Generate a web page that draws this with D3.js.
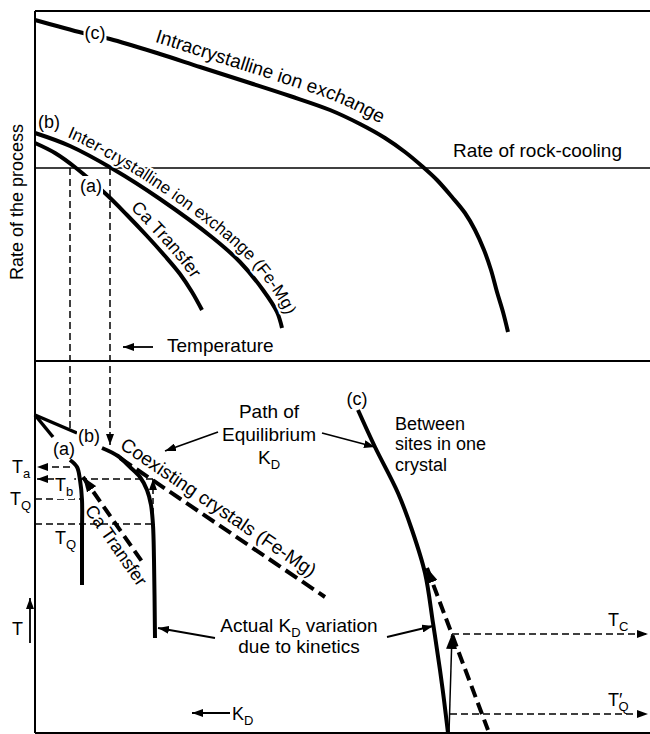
<!DOCTYPE html>
<html>
<head>
<meta charset="utf-8">
<script src="https://cdn.jsdelivr.net/npm/d3@7"></script>
<style>
  body { margin: 0; background: #fff; }
  svg { display: block; }
  text { font-family: "Liberation Sans", Arial, sans-serif; font-size: 18px; fill: #000; }
</style>
</head>
<body>
<div id="chart"></div>
<script>
// Schematic: rate of exchange processes (top) and K_D vs temperature (bottom)
// x in arbitrary temperature / K_D units, rate and T in arbitrary units

// Top panel: rate of the process
const rateCurveC = [[0,68.2],[9.6,65.6],[15,64.4],[25,61.4],[33,58.8],[43,55.6],[51,53],[59,50.2],[65,47.4],[70,44.6],[74,41.8],[77.6,38.8],[80.4,36.2],[83.4,32.8],[86,29.6],[88,26.2],[89.8,22.2],[91.2,18.2],[92.4,13.8],[93.6,9.8],[94.6,5.8]];
const rateCurveB = [[0,45.6],[7,43],[15.6,38.4],[25,32.4],[35.6,24.6],[41,19.8],[45.6,14.2],[48.4,9.8],[49.4,6.6]];
const rateCurveA = [[0,43.6],[4,41.6],[8.2,38.6],[14.4,33.2],[18.4,29.2],[22.4,25],[26,21],[29,17.4],[31.4,13.8],[33.4,10.2]];
const coolingRate = 38.6;

// drop lines from rate-cooling intersections down to K_D panel
const dropLines = [
    { u: 7,  r: coolingRate, t: 75.75, arrow: false },
    { u: 15, r: coolingRate, t: 72,    arrow: true }
];

// Bottom panel: equilibrium K_D paths (dashed) and actual K_D paths (solid)
const eqStart = [0, 79.5];
const eqStubs = [[3.6, 74], [8.4, 75]];
const kdEqA = [[9.6,64],[21.6,42.5]];
const kdEqB = [[17,68.75],[58,34]];
const kdEqC = [[78.4,41.25],[90.6,0.75]];
const kdActA = [[7,68.25],[8.4,66.5],[9,63.25],[9.4,58.25],[9.4,50],[9.4,37]];
const kdActB = [[13.4,71.25],[16.6,69.25],[19,66.5],[21,64],[22.4,60.75],[23.2,57],[23.6,52],[23.8,43.25],[24,23.75]];
const kdActC = [[64.6,80.75],[68,71.5],[72.6,60],[75.4,50.75],[78,40],[79.6,27.5],[81,15.75],[81.8,8.25],[82.6,0]];

// closure / quench temperature levels
const tempLevels = [
    { t: 66.5,  u0: 7,    u1: 0.4,   arrow: true },
    { t: 63.5,  u0: 23.6, u1: 0.4,   arrow: true },
    { t: 58.5,  u0: 0,    u1: 9.4,   arrow: false },
    { t: 52.25, u0: 0,    u1: 23.6,  arrow: false },
    { t: 24.75, u0: 83.4, u1: 122.6, arrow: true },
    { t: 4.75,  u0: 83,   u1: 122.6, arrow: true }
];
const quenchArrows = [
    { from: [23.6,52.25], to: [23.6,63.5], dashed: true },
    { from: [82.8,0],     to: [83.4,24.75], dashed: false }
];
const pointerArrows = [
    { from: [36.6,75.25], to: [26,70.5] },
    { from: [57.4,75],    to: [68,71.5] },
    { from: [36,23.75],   to: [24.6,26.25] },
    { from: [70.4,24],    to: [79.6,26.75] },
    { from: [39,5],       to: [31.4,5] },
    { from: [-1,22.5],    to: [-1,33.75] }
];

const width = 650, height = 734;
const x = d3.scaleLinear().domain([0, 123]).range([35, 650]);
const yRate = d3.scaleLinear().domain([0, 70]).range([361, 11]);
const yT = d3.scaleLinear().domain([0, 93]).range([733, 361]);

const svg = d3.select("#chart").append("svg")
    .attr("width", width)
    .attr("height", height);
const defs = svg.append("defs");

function marker(id, w, h) {
    defs.append("marker")
        .attr("id", id)
        .attr("viewBox", `0 0 ${w} ${h}`)
        .attr("refX", w).attr("refY", h / 2)
        .attr("markerWidth", w).attr("markerHeight", h)
        .attr("markerUnits", "userSpaceOnUse")
        .attr("orient", "auto-start-reverse")
        .append("path")
        .attr("d", `M0,0L${w},${h / 2}L0,${h}Z`)
        .attr("fill", "#000");
}
marker("arr", 11, 8);
marker("arrBig", 15, 11);

const smooth = d3.curveCatmullRom.alpha(0.5);
const lineR = d3.line().x(d => x(d[0])).y(d => yRate(d[1])).curve(smooth);
const lineT = d3.line().x(d => x(d[0])).y(d => yT(d[1])).curve(smooth);
const straightT = d3.line().x(d => x(d[0])).y(d => yT(d[1]));

// frame
const frame = svg.append("g").attr("stroke", "#000").attr("stroke-width", 2);
frame.append("line").attr("x1", x(0)).attr("x2", x(123)).attr("y1", yRate(70)).attr("y2", yRate(70));
frame.append("line").attr("x1", x(0)).attr("x2", x(0)).attr("y1", yRate(70)).attr("y2", yT(0));
frame.append("line").attr("x1", x(0)).attr("x2", x(123)).attr("y1", yRate(0)).attr("y2", yRate(0));
frame.append("line").attr("x1", x(0)).attr("x2", x(123)).attr("y1", yT(0)).attr("y2", yT(0));

// rate of rock-cooling
svg.append("line")
    .attr("x1", x(0)).attr("x2", x(123))
    .attr("y1", yRate(coolingRate)).attr("y2", yRate(coolingRate))
    .attr("stroke", "#000").attr("stroke-width", 1.5);

// drop lines
svg.selectAll(".drop").data(dropLines).enter().append("line")
    .attr("x1", d => x(d.u)).attr("x2", d => x(d.u))
    .attr("y1", d => yRate(d.r)).attr("y2", d => yT(d.t))
    .attr("stroke", "#000").attr("stroke-width", 1.5)
    .attr("stroke-dasharray", "7,4")
    .attr("marker-end", d => d.arrow ? "url(#arr)" : null);

// rate curves
[rateCurveC, rateCurveB, rateCurveA].forEach(c => {
    svg.append("path").attr("d", lineR(c))
        .attr("fill", "none").attr("stroke", "#000").attr("stroke-width", 4);
});

// equilibrium start stubs
eqStubs.forEach(s => {
    svg.append("path").attr("d", straightT([eqStart, s]))
        .attr("fill", "none").attr("stroke", "#000").attr("stroke-width", 3.5);
});

// actual K_D paths
[kdActA, kdActB, kdActC].forEach(c => {
    svg.append("path").attr("d", lineT(c))
        .attr("fill", "none").attr("stroke", "#000").attr("stroke-width", 4);
});

// equilibrium K_D paths (dashed)
svg.append("path").attr("d", straightT(kdEqB))
    .attr("fill", "none").attr("stroke", "#000").attr("stroke-width", 4)
    .attr("stroke-dasharray", "14,6");
[kdEqA, kdEqC].forEach(c => {
    svg.append("path").attr("d", straightT(c))
        .attr("fill", "none").attr("stroke", "#000").attr("stroke-width", 4)
        .attr("stroke-dasharray", "12,6")
        .attr("marker-start", "url(#arrBig)");
});

// temperature levels
svg.selectAll(".lvl").data(tempLevels).enter().append("line")
    .attr("x1", d => x(d.u0)).attr("x2", d => x(d.u1))
    .attr("y1", d => yT(d.t)).attr("y2", d => yT(d.t))
    .attr("stroke", "#000").attr("stroke-width", 1.5)
    .attr("stroke-dasharray", "7,4")
    .attr("marker-end", d => d.arrow ? "url(#arr)" : null);

quenchArrows.forEach(a => {
    svg.append("path").attr("d", straightT([a.from, a.to]))
        .attr("stroke", "#000").attr("stroke-width", 1.5)
        .attr("stroke-dasharray", a.dashed ? "6,4" : null)
        .attr("marker-end", a.dashed ? "url(#arr)" : "url(#arrBig)");
});

pointerArrows.forEach(a => {
    svg.append("path").attr("d", straightT([a.from, a.to]))
        .attr("stroke", "#000").attr("stroke-width", 1.8)
        .attr("marker-end", "url(#arr)");
});
// temperature arrow in top panel
svg.append("line")
    .attr("x1", x(23.6)).attr("x2", x(17.6))
    .attr("y1", yRate(2.8)).attr("y2", yRate(2.8))
    .attr("stroke", "#000").attr("stroke-width", 1.8)
    .attr("marker-end", "url(#arr)");

// text along a curve, offset along its normal
function pathLabel(id, pts, offset, text, startX, size, halo) {
    const n = pts.length;
    const off = pts.map((p, i) => {
        const a = pts[Math.max(0, i - 1)], b = pts[Math.min(n - 1, i + 1)];
        const tx = b[0] - a[0], ty = b[1] - a[1], L = Math.hypot(tx, ty);
        return [p[0] + offset * ty / L, p[1] - offset * tx / L];
    });
    const ext = (p, q, len) => {
        const dx = p[0] - q[0], dy = p[1] - q[1], L = Math.hypot(dx, dy);
        return [p[0] + dx / L * len, p[1] + dy / L * len];
    };
    off.unshift(ext(off[0], off[1], 80));
    off.push(ext(off[off.length - 1], off[off.length - 2], 80));
    const p = defs.append("path").attr("id", id)
        .attr("d", d3.line().curve(d3.curveCatmullRom)(off));
    const node = p.node(), total = node.getTotalLength();
    let s = 0;
    while (s < total && node.getPointAtLength(s).x < startX) s += 0.5;
    const t = svg.append("text").style("font-size", size + "px");
    if (halo) t.attr("stroke", "#fff").attr("stroke-width", 4).attr("paint-order", "stroke");
    t.append("textPath").attr("href", "#" + id).attr("startOffset", s).text(text);
}

pathLabel("lblC", rateCurveC.map(d => [x(d[0]), yRate(d[1])]), 10, "Intracrystalline ion exchange", 154, 19, false);
pathLabel("lblB", rateCurveB.map(d => [x(d[0]), yRate(d[1])]), 7, "Inter-crystalline ion exchange (Fe-Mg)", 67, 17, true);
pathLabel("lblA", rateCurveA.map(d => [x(d[0]), yRate(d[1])]), 7, "Ca Transfer", 130, 18, true);
pathLabel("lblEqB", kdEqB.map(d => [x(d[0]), yT(d[1])]), 8, "Coexisting crystals (Fe-Mg)", 119, 19, false);
pathLabel("lblEqA", kdEqA.map(d => [x(d[0]), yT(d[1])]), -18, "Ca Transfer", 84, 18, false);

// plain labels with optional subscripts
function label(px, py, segs, anchor, bg, size) {
    const t = svg.append("text").attr("x", px).attr("y", py)
        .attr("text-anchor", anchor || "start");
    if (size) t.style("font-size", size + "px");
    let shift = 0;
    segs.forEach(([s, kind, dx]) => {
        const sp = t.append("tspan").text(s);
        if (dx) sp.attr("dx", dx);
        if (kind === "sub") {
            sp.attr("dy", 5 - shift).style("font-size", "13px");
            shift = 5;
        } else if (shift) {
            sp.attr("dy", -shift);
            shift = 0;
        }
    });
    if (bg) {
        const b = t.node().getBBox();
        svg.insert("rect", () => t.node())
            .attr("x", b.x - 1).attr("y", b.y).attr("width", b.width + 2).attr("height", b.height)
            .attr("fill", "#fff");
    }
    return t;
}

// top panel labels
label(x(12), yRate(64.4), [["(c)"]], "middle", true);
label(x(2.8), yRate(46.6), [["(b)"]], "middle", false);
label(x(11.2), yRate(33.8), [["(a)"]], "middle", true);
label(x(83.6), yRate(40.8), [["Rate of rock-cooling"]], "start", false, 19);
label(x(26.4), yRate(1.8), [["Temperature"]], "start", false, 19);
svg.append("text")
    .attr("transform", `translate(23,${(yRate(70) + yRate(0)) / 2 + 16}) rotate(-90)`)
    .attr("text-anchor", "middle")
    .text("Rate of the process");

// bottom panel labels
label(x(5.8), yT(69.5), [["(a)"]], "middle", true);
label(x(10.8), yT(72.75), [["(b)"]], "middle", true);
label(x(64.4), yT(82), [["(c)"]], "middle", false);
label(x(46.8), yT(78.75), [["Path of"]], "middle", false, 19);
label(x(46.8), yT(73), [["Equilibrium"]], "middle", false, 19);
label(x(46.8), yT(67.25), [["K"], ["D", "sub"]], "middle", false, 19);
label(x(72), yT(75.75), [["Between"]], "start", false);
label(x(72), yT(70.75), [["sites in one"]], "start", false);
label(x(72), yT(65.5), [["crystal"]], "start", false);
label(x(-4.6), yT(65), [["T"], ["a", "sub"]], "start", false);
label(x(4), yT(60.5), [["T"], ["b", "sub"]], "start", true);
label(x(-5), yT(57), [["T"], ["Q", "sub"]], "start", false);
label(x(4), yT(47.25), [["T"], ["Q", "sub"]], "start", false);
label(x(114.6), yT(26.75), [["T"], ["C", "sub"]], "start", false);
label(x(114.6), yT(6.75), [["T"], ["′"], ["Q", "sub", -4]], "start", false);
label(x(-4.6), yT(24.5), [["T"]], "start", false);
label(x(52.8), yT(25.25), [["Actual K"], ["D", "sub"], [" variation"]], "middle", false, 19);
label(x(52.8), yT(20), [["due to kinetics"]], "middle", false, 19);
label(x(39.4), yT(3.25), [["K"], ["D", "sub"]], "start", false);
</script>
</body>
</html>
